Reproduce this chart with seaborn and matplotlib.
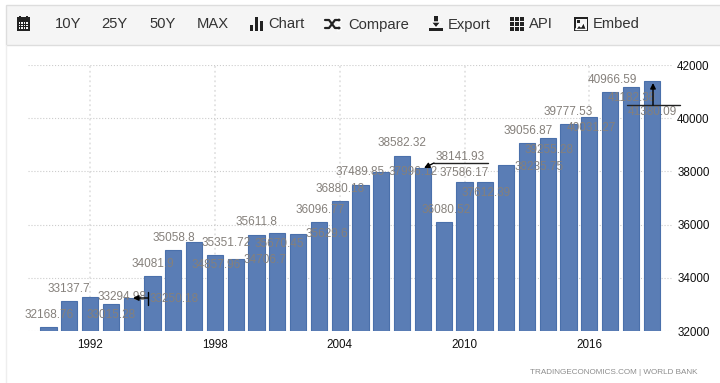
import matplotlib
matplotlib.use("Agg")
import matplotlib.pyplot as plt
import seaborn as sns
from matplotlib.patches import Rectangle, Polygon

years = list(range(1990, 2020))
values = [32168.76, 33137.7, 33294.98, 33015.28, 33250.18, 34081.9, 35058.8, 35351.72,
          34857.96, 34706.7, 35611.8, 35670.45, 35629.6, 36096.77, 36880.18, 37489.85,
          37996.12, 38582.32, 38141.93, 36080.52, 37586.17, 37612.39, 38235.75, 39056.87,
          39255.28, 39777.53, 40031.27, 40966.59, 41182.38, 41380.09]
x_ticks = [1992, 1998, 2004, 2010, 2016]
y_ticks = [32000, 34000, 36000, 38000, 40000, 42000]
range_labels = ["10Y", "25Y", "50Y", "MAX"]

# where each value label sits relative to its bar top, in pixels
label_offsets = [(1, 12), (0, 12), (32, 0), (0, -11), (42, -1), (0, 12), (1, 12), (32, -1),
                 (1, -10), (29, -1), (0, 13), (2, -11), (29, 0), (1, 12), (0, 12), (0, 13),
                 (32, 0), (0, 13), (37, 11), (2, 12), (0, 9), (1, -11), (33, -2), (1, 12),
                 (1, -12), (0, 12), (2, -11), (2, 12), (1, -11), (1, -31)]

sns.set_theme(style="white")
plt.rcParams["font.family"] = ["Liberation Sans", "DejaVu Sans"]

fig = plt.figure(figsize=(7.2, 3.83), dpi=100)
ax = fig.add_axes([28 / 720, (383 - 331) / 383, (673 - 28) / 720, 266 / 383])

# Bars
sns.barplot(x=years, y=values, native_scale=True, width=0.78, color="#5a7db5",
            saturation=1, edgecolor="#4a70ab", linewidth=0.8, ax=ax, zorder=3)
ax.set_xlim(1989.014, 2020.024)
ax.set_ylim(32000, 42000)
ax.set_xticks(x_ticks)
ax.set_xticklabels([str(y) for y in x_ticks], fontsize=8.4, color="#111111")
ax.set_yticks(y_ticks)
ax.set_yticklabels([str(y) for y in y_ticks], fontsize=8.4, color="#111111")
ax.yaxis.tick_right()
ax.tick_params(axis="y", length=0, pad=3)
ax.tick_params(axis="x", length=0, pad=6)
ax.grid(axis="y", linestyle=":", color="#cccccc", linewidth=0.8, zorder=0)
ax.grid(axis="x", linestyle=":", color="#e2e2e2", linewidth=1.3, zorder=0)
ax.set_axisbelow(True)
sns.despine(ax=ax, left=True, bottom=True, right=True, top=True)

# Value labels
for year, value, offset in zip(years, values, label_offsets):
    ax.annotate(str(value), xy=(year, value), xytext=offset, textcoords="offset pixels",
                ha="center", va="center", fontsize=8.5, color="#85807b", zorder=5)

# Overlay in image pixels for the toolbar, callouts and footer
ui = fig.add_axes([0, 0, 1, 1], zorder=10)
ui.set_xlim(0, 720)
ui.set_ylim(383, 0)
ui.axis("off")
ui.patch.set_alpha(0)

# Callouts
def arrow(x0, y0, x1, y1):
    ui.annotate("", xy=(x1, y1), xytext=(x0, y0),
                arrowprops=dict(arrowstyle="-|>", color="black", lw=1, shrinkA=0, shrinkB=0,
                                mutation_scale=8))

ui.plot([148, 148], [292, 305], color="black", lw=1)
arrow(148, 298, 133, 298)
ui.plot([488, 434], [163, 163], color="#222222", lw=1)
arrow(434, 163, 424, 168)
ui.plot([627, 680], [105, 105], color="#222222", lw=1)
arrow(653, 105, 653, 83)

# Toolbar
ui.add_patch(Rectangle((6, 4.5), 720, 40.5, facecolor="#f5f5f5", edgecolor="#dddddd", lw=1))
ui.plot([6, 6], [45, 383], color="#eeeeee", lw=1)
dark = "#222222"
text_style = dict(fontsize=10.6, color="#333333", va="center", ha="left")
for name, x in zip(range_labels, [55, 101, 149, 197]):
    ui.text(x, 24.5, name, **text_style)
for name, x in zip(["Chart", "Compare", "Export", "API", "Embed"], [268, 348, 448, 529, 593]):
    ui.text(x, 24.5, name, **text_style)

def box(x, y, w, h, color=dark):
    ui.add_patch(Rectangle((x, y), w, h, facecolor=color, edgecolor="none"))

# calendar icon
box(17, 17, 13, 14)
box(19, 16, 2, 2)
box(26, 16, 2, 2)
for cx in [18.5, 21, 23.5, 26]:
    for cy in [22, 24.5, 27]:
        box(cx, cy, 1.5, 1.5, "#f5f5f5")
# chart icon
box(250, 25, 3, 6)
box(255, 17, 3, 14)
box(260, 21, 3, 10)
# shuffle icon
ui.plot([325, 329, 335, 339], [20, 20, 28, 28], color=dark, lw=1.6)
ui.plot([325, 329, 335, 339], [28, 28, 20, 20], color=dark, lw=1.6)
ui.add_patch(Polygon([(338, 16.5), (342, 20), (338, 23.5)], facecolor=dark))
ui.add_patch(Polygon([(338, 24.5), (342, 28), (338, 31.5)], facecolor=dark))
# export icon
box(434, 16, 4, 7)
ui.add_patch(Polygon([(431, 22), (441, 22), (436, 28)], facecolor=dark))
box(429, 28, 14, 3)
# api icon
for cx in [510, 515, 520]:
    for cy in [17, 22, 27]:
        box(cx, cy, 4, 4)
# embed icon
box(574, 17, 14, 14)
box(575.5, 18.5, 11, 11, "#f5f5f5")
box(577, 20, 2.5, 2.5)
ui.add_patch(Polygon([(575.5, 29.5), (579, 25), (581, 27), (583.5, 22), (586.5, 29.5)], facecolor=dark))

# Footer
ui.text(697, 373, "TRADINGECONOMICS.COM | WORLD BANK", fontsize=5.85, color="#8d8d8d",
        ha="right", va="center")

fig.savefig("out.png", dpi=100)
